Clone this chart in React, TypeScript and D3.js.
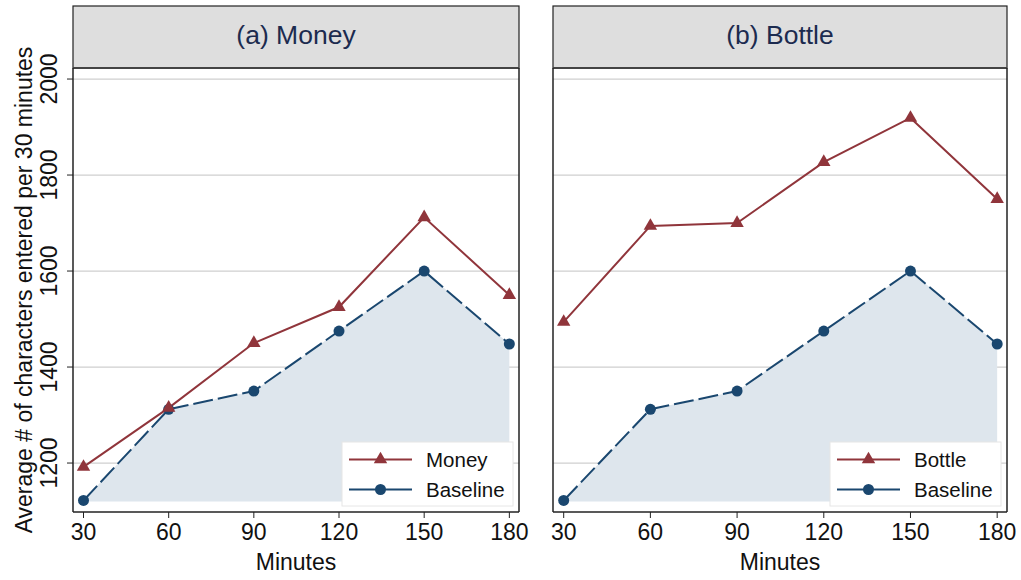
import React from "react";
import * as d3 from "d3";

type TPoint = { minute: number; value: number };

const minutes = [30, 60, 90, 120, 150, 180];
const moneyValues = [1192, 1315, 1450, 1525, 1712, 1550];
const bottleValues = [1494, 1694, 1700, 1827, 1919, 1750];
const baselineValues = [1122, 1312, 1350, 1475, 1600, 1448];
const yTicks = [1200, 1400, 1600, 1800, 2000];

const width = 1021;
const height = 580;
const top = 68;
const bottom = 512;
const headerTop = 6;

const red = "#90353b";
const navy = "#1a476f";
const fillColor = "#dee6ed";
const font = "'Liberation Sans', Arial, sans-serif";

const toPoints = (vals: number[]): TPoint[] =>
  minutes.map((m, i) => ({ minute: m, value: vals[i] }));

const y = d3.scaleLinear().domain([1098, 2023]).range([bottom, top]);

const triangle = d3.symbol().type(d3.symbolTriangle).size(78)() || "";

type PanelProps = {
  left: number;
  right: number;
  title: string;
  label: string;
  values: number[];
  showYTicks: boolean;
};

const Panel = ({ left, right, title, label, values, showYTicks }: PanelProps) => {
  const x = d3.scaleLinear().domain([26.3, 183.4]).range([left, right]);
  const treat = toPoints(values);
  const base = toPoints(baselineValues);

  const line = d3
    .line<TPoint>()
    .x((d) => x(d.minute))
    .y((d) => y(d.value));
  const area = d3
    .area<TPoint>()
    .x((d) => x(d.minute))
    .y0(y(1120))
    .y1((d) => y(d.value));

  const legX = right - 177;
  const legY = 442;

  return (
    <g>
      {/* header strip */}
      <rect
        x={left}
        y={headerTop}
        width={right - left}
        height={top - headerTop}
        fill="#dedede"
        stroke="#222"
        strokeWidth={1.2}
      />
      <line x1={left} x2={right} y1={top} y2={top} stroke="#444" strokeWidth={2.2} />
      <text
        x={(left + right) / 2}
        y={43.5}
        textAnchor="middle"
        fontSize={26.5}
        fill="#1c2b4f"
      >
        {title}
      </text>

      {/* grid */}
      {yTicks.map((t) => (
        <line
          key={t}
          x1={left}
          x2={right}
          y1={y(t)}
          y2={y(t)}
          stroke="#cfcfcf"
          strokeWidth={1.3}
        />
      ))}

      {/* baseline area */}
      <path d={area(base) || ""} fill={fillColor} />

      <path
        d={line(base) || ""}
        fill="none"
        stroke={navy}
        strokeWidth={2}
        strokeDasharray="20,5"
      />
      <path d={line(treat) || ""} fill="none" stroke={red} strokeWidth={2} />

      {base.map((d) => (
        <circle key={d.minute} cx={x(d.minute)} cy={y(d.value)} r={5.5} fill={navy} />
      ))}
      {treat.map((d) => (
        <path
          key={d.minute}
          d={triangle}
          transform={`translate(${x(d.minute)},${y(d.value)})`}
          fill={red}
        />
      ))}

      {/* legend */}
      <rect
        x={legX}
        y={legY}
        width={171}
        height={64}
        fill="white"
        stroke="#e6e6e6"
        strokeWidth={1}
      />
      <line x1={legX + 7} x2={legX + 70} y1={legY + 17.5} y2={legY + 17.5} stroke={red} strokeWidth={2} />
      <path d={triangle} transform={`translate(${legX + 38.5},${legY + 17.5})`} fill={red} />
      <text x={legX + 84} y={legY + 25} fontSize={20.5} fill="#111">
        {label}
      </text>
      <line x1={legX + 7} x2={legX + 70} y1={legY + 47.5} y2={legY + 47.5} stroke={navy} strokeWidth={2} />
      <circle cx={legX + 38.5} cy={legY + 47.5} r={5.5} fill={navy} />
      <text x={legX + 84} y={legY + 55} fontSize={20.5} fill="#111">
        Baseline
      </text>

      {/* frame */}
      <line x1={left} x2={left} y1={top} y2={bottom} stroke="#222" strokeWidth={1.5} />
      <line x1={right} x2={right} y1={top} y2={bottom} stroke="#222" strokeWidth={1.5} />
      <line x1={left} x2={right} y1={bottom} y2={bottom} stroke="#222" strokeWidth={1.5} />

      {/* x axis */}
      {minutes.map((m) => (
        <g key={m}>
          <line x1={x(m)} x2={x(m)} y1={bottom} y2={bottom + 6} stroke="#222" strokeWidth={1} />
          <text x={x(m)} y={539.5} textAnchor="middle" fontSize={23} fill="#111">
            {m}
          </text>
        </g>
      ))}
      <text x={(left + right) / 2} y={570} textAnchor="middle" fontSize={23} fill="#111">
        Minutes
      </text>

      {/* y ticks (left panel only) */}
      {showYTicks &&
        yTicks.map((t) => (
          <line key={t} x1={left - 6} x2={left} y1={y(t)} y2={y(t)} stroke="#222" strokeWidth={1} />
        ))}
    </g>
  );
};

const App = () => {
  return (
    <div style={{ position: "absolute", left: 0, top: 0 }}>
      <svg width={width} height={height} style={{ display: "block", fontFamily: font }}>
        <rect width={width} height={height} fill="white" />
        <Panel left={73} right={519} title="(a) Money" label="Money" values={moneyValues} showYTicks />
        <Panel left={553} right={1007} title="(b) Bottle" label="Bottle" values={bottleValues} showYTicks={false} />

        {yTicks.map((t) => (
          <text
            key={t}
            transform={`translate(57,${y(t)}) rotate(-90)`}
            textAnchor="middle"
            fontSize={23}
            fill="#111"
          >
            {t}
          </text>
        ))}
        <text
          transform={`translate(32,${(top + bottom) / 2}) rotate(-90)`}
          textAnchor="middle"
          fontSize={23}
          fill="#111"
        >
          Average # of characters entered per 30 minutes
        </text>
      </svg>
    </div>
  );
};

export default App;
